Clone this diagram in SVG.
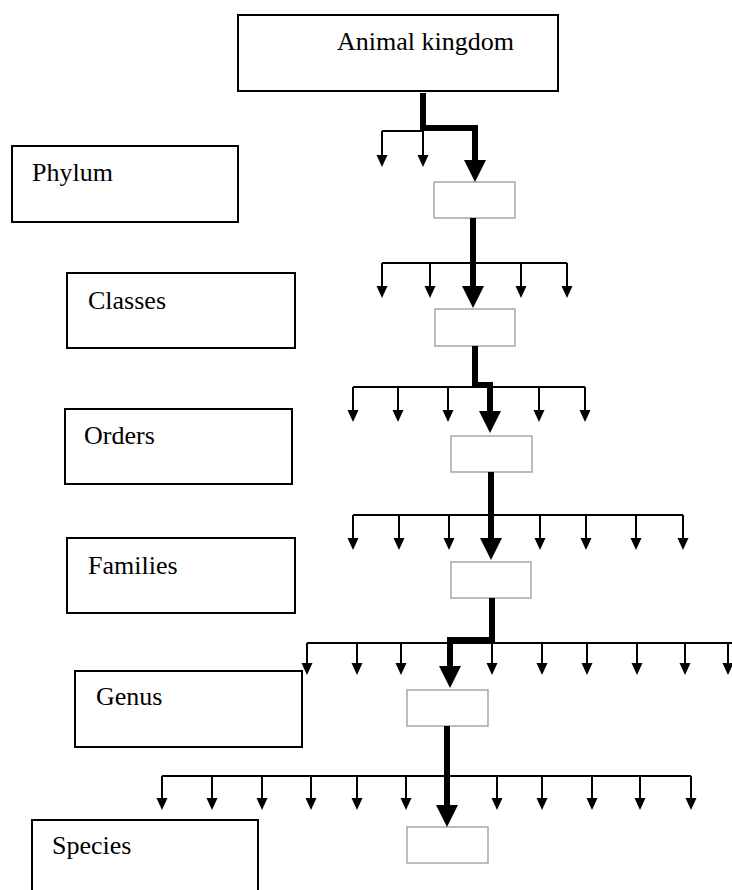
<svg xmlns="http://www.w3.org/2000/svg" width="732" height="890" viewBox="0 0 732 890">
  <style>
    .rank { fill: #ffffff; stroke: #000000; stroke-width: 2; }
    .slot { fill: #ffffff; stroke: #a6a6a6; stroke-width: 1.5; }
    .label { font-size: 26px; fill: #000000; }
    .thin { fill: none; stroke: #000000; stroke-width: 2; }
    .thin-arrow { fill: none; stroke: #000000; stroke-width: 2; marker-end: url(#head-thin); }
    .main-path { fill: none; stroke: #000000; stroke-width: 6; stroke-linejoin: miter; marker-end: url(#head-thick); }
  </style>
  <defs>
    <marker id="head-thin" viewBox="0 -6 12 12" refX="6" refY="0" markerWidth="12" markerHeight="12" markerUnits="userSpaceOnUse" orient="auto">
      <path d="M0,-5.5 L12,0 L0,5.5 Z" fill="#000000"/>
    </marker>
    <marker id="head-thick" viewBox="0 -11 22 22" refX="10" refY="0" markerWidth="22" markerHeight="22" markerUnits="userSpaceOnUse" orient="auto">
      <path d="M0,-11 L22,0 L0,11 Z" fill="#000000"/>
    </marker>
  </defs>

  <rect width="732" height="890" fill="#ffffff"/>

  <!-- rank labels -->
  <g font-family="'Liberation Serif', 'DejaVu Serif', serif">
  <g id="node-kingdom">
    <rect class="rank" x="238" y="15" width="320" height="76"/>
    <text class="label" x="337" y="50">Animal kingdom</text>
  </g>
  <g id="node-phylum">
    <rect class="rank" x="12" y="146" width="226" height="76"/>
    <text class="label" x="32" y="181">Phylum</text>
  </g>
  <g id="node-classes">
    <rect class="rank" x="67" y="273" width="228" height="75"/>
    <text class="label" x="88" y="309">Classes</text>
  </g>
  <g id="node-orders">
    <rect class="rank" x="65" y="409" width="227" height="75"/>
    <text class="label" x="84" y="444">Orders</text>
  </g>
  <g id="node-families">
    <rect class="rank" x="67" y="538" width="228" height="75"/>
    <text class="label" x="88" y="574">Families</text>
  </g>
  <g id="node-genus">
    <rect class="rank" x="75" y="671" width="227" height="76"/>
    <text class="label" x="96" y="705">Genus</text>
  </g>
  <g id="node-species">
    <rect class="rank" x="32" y="820" width="226" height="80"/>
    <text class="label" x="52" y="854">Species</text>
  </g>
  </g>

  <!-- empty slots along the chosen path -->
  <g id="slot-1"><rect class="slot" x="434" y="182" width="81" height="36"/></g>
  <g id="slot-2"><rect class="slot" x="435" y="309" width="80" height="37"/></g>
  <g id="slot-3"><rect class="slot" x="451" y="436" width="81" height="36"/></g>
  <g id="slot-4"><rect class="slot" x="451" y="562" width="80" height="36"/></g>
  <g id="slot-5"><rect class="slot" x="407" y="690" width="81" height="36"/></g>
  <g id="slot-6"><rect class="slot" x="407" y="827" width="81" height="36"/></g>

  <g id="connectors">
    <!-- level 1 -->
    <path class="thin" d="M382,131 H423"/>
    <path class="thin-arrow" d="M382,131 V161"/>
    <path class="thin-arrow" d="M423,131 V161"/>
    <path class="main-path" d="M423,93 V128 H475 V170"/>

    <!-- level 2 -->
    <path class="thin" d="M382,263 H567"/>
    <path class="thin-arrow" d="M382,263 V292"/>
    <path class="thin-arrow" d="M430,263 V292"/>
    <path class="thin-arrow" d="M521,263 V292"/>
    <path class="thin-arrow" d="M567,263 V292"/>
    <path class="main-path" d="M473,218 V296"/>

    <!-- level 3 -->
    <path class="thin" d="M353,387 H585"/>
    <path class="thin-arrow" d="M353,387 V416"/>
    <path class="thin-arrow" d="M398,387 V416"/>
    <path class="thin-arrow" d="M448,387 V416"/>
    <path class="thin-arrow" d="M539,387 V416"/>
    <path class="thin-arrow" d="M585,387 V416"/>
    <path class="main-path" d="M475,346 V385 H490 V421"/>

    <!-- level 4 -->
    <path class="thin" d="M353,515 H683"/>
    <path class="thin-arrow" d="M353,515 V544"/>
    <path class="thin-arrow" d="M399,515 V544"/>
    <path class="thin-arrow" d="M449,515 V544"/>
    <path class="thin-arrow" d="M540,515 V544"/>
    <path class="thin-arrow" d="M586,515 V544"/>
    <path class="thin-arrow" d="M636,515 V544"/>
    <path class="thin-arrow" d="M683,515 V544"/>
    <path class="main-path" d="M491,472 V548"/>

    <!-- level 5 -->
    <path class="thin" d="M307,643 H732"/>
    <path class="thin-arrow" d="M307,643 V669"/>
    <path class="thin-arrow" d="M357,643 V669"/>
    <path class="thin-arrow" d="M401,643 V669"/>
    <path class="thin-arrow" d="M492,643 V669"/>
    <path class="thin-arrow" d="M542,643 V669"/>
    <path class="thin-arrow" d="M587,643 V669"/>
    <path class="thin-arrow" d="M637,643 V669"/>
    <path class="thin-arrow" d="M685,643 V669"/>
    <path class="thin-arrow" d="M728,643 V669"/>
    <path class="main-path" d="M492,598 V640 H450 V676"/>

    <!-- level 6 -->
    <path class="thin" d="M162,776 H691"/>
    <path class="thin-arrow" d="M162,776 V804"/>
    <path class="thin-arrow" d="M212,776 V804"/>
    <path class="thin-arrow" d="M262,776 V804"/>
    <path class="thin-arrow" d="M311,776 V804"/>
    <path class="thin-arrow" d="M357,776 V804"/>
    <path class="thin-arrow" d="M406,776 V804"/>
    <path class="thin-arrow" d="M497,776 V804"/>
    <path class="thin-arrow" d="M542,776 V804"/>
    <path class="thin-arrow" d="M592,776 V804"/>
    <path class="thin-arrow" d="M640,776 V804"/>
    <path class="thin-arrow" d="M691,776 V804"/>
    <path class="main-path" d="M447,726 V815"/>
  </g>
</svg>
